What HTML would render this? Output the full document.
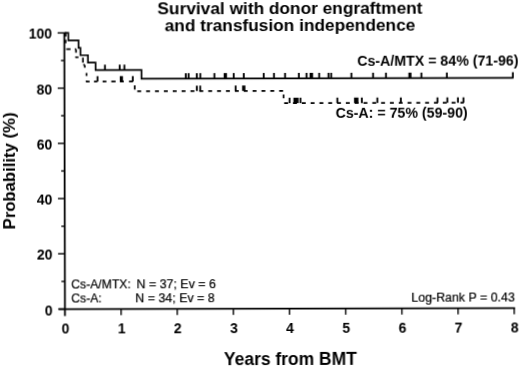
<!DOCTYPE html>
<html><head><meta charset="utf-8"><style>
html,body{margin:0;padding:0;background:#fff;}
body{width:520px;height:367px;overflow:hidden;}
svg{display:block;}
text{font-family:"Liberation Sans",sans-serif;fill:#000;}
.tl{font-size:14px;font-weight:bold;}
.big{font-size:17.3px;font-weight:bold;}
.xl{font-size:17.45px;}
.leg{font-size:14.2px;font-weight:bold;}
.sm{font-size:12.2px;stroke:#000;stroke-width:0.2px;}
.lr{font-size:12.4px;}
.nn{font-size:12.45px;}
</style></head><body>
<svg width="520" height="367" viewBox="0 0 520 367">
<rect width="520" height="367" fill="#fff"/>
<g opacity="0.999" transform="rotate(-0.1318 290.0 170.0)">
<text x="290.36" y="13.60" text-anchor="middle" class="big">Survival with donor engraftment</text>
<text x="290.32" y="31.10" text-anchor="middle" class="big">and transfusion independence</text>
<text transform="translate(14.90,170.27) rotate(-90) scale(0.966,1)" text-anchor="middle" class="big">Probability (%)</text>
<text x="289.95" y="364.70" text-anchor="middle" class="big xl">Years from BMT</text>
<text x="357.44" y="66.15" class="leg">Cs-A/MTX = 84% (71-96)</text>
<text x="335.72" y="118.10" class="leg">Cs-A: = 75% (59-90)</text>
<text x="71.03" y="288.20" class="sm">Cs-A/MTX:</text>
<text x="136.23" y="288.35" class="sm nn">N = 37; Ev = 6</text>
<text x="71.00" y="302.10" class="sm">Cs-A:</text>
<text x="135.00" y="302.24" class="sm nn">N = 34; Ev = 8</text>
<text x="411.10" y="302.18" class="sm lr">Log-Rank P = 0.43</text>
<line x1="64.63" y1="31.90" x2="64.63" y2="315.6" stroke="#000" stroke-width="1.8"/>
<path d="M58.4,308.5 H514.71" stroke="#000" stroke-width="1.75" fill="none"/>
<line x1="57.9" y1="308.50" x2="64.63" y2="308.50" stroke="#000" stroke-width="1.4"/>
<line x1="61.2" y1="280.89" x2="64.63" y2="280.89" stroke="#000" stroke-width="1.4"/>
<line x1="57.9" y1="253.28" x2="64.63" y2="253.28" stroke="#000" stroke-width="1.4"/>
<line x1="61.2" y1="225.67" x2="64.63" y2="225.67" stroke="#000" stroke-width="1.4"/>
<line x1="57.9" y1="198.06" x2="64.63" y2="198.06" stroke="#000" stroke-width="1.4"/>
<line x1="61.2" y1="170.45" x2="64.63" y2="170.45" stroke="#000" stroke-width="1.4"/>
<line x1="57.9" y1="142.84" x2="64.63" y2="142.84" stroke="#000" stroke-width="1.4"/>
<line x1="61.2" y1="115.23" x2="64.63" y2="115.23" stroke="#000" stroke-width="1.4"/>
<line x1="57.9" y1="87.62" x2="64.63" y2="87.62" stroke="#000" stroke-width="1.4"/>
<line x1="61.2" y1="60.01" x2="64.63" y2="60.01" stroke="#000" stroke-width="1.4"/>
<line x1="57.9" y1="32.40" x2="64.63" y2="32.40" stroke="#000" stroke-width="1.4"/>
<line x1="120.79" y1="308.5" x2="120.79" y2="314.8" stroke="#000" stroke-width="1.4"/>
<line x1="176.95" y1="308.5" x2="176.95" y2="314.8" stroke="#000" stroke-width="1.4"/>
<line x1="233.11" y1="308.5" x2="233.11" y2="314.8" stroke="#000" stroke-width="1.4"/>
<line x1="289.27" y1="308.5" x2="289.27" y2="314.8" stroke="#000" stroke-width="1.4"/>
<line x1="345.43" y1="308.5" x2="345.43" y2="314.8" stroke="#000" stroke-width="1.4"/>
<line x1="401.59" y1="308.5" x2="401.59" y2="314.8" stroke="#000" stroke-width="1.4"/>
<line x1="457.75" y1="308.5" x2="457.75" y2="314.8" stroke="#000" stroke-width="1.4"/>
<line x1="513.91" y1="308.5" x2="513.91" y2="314.8" stroke="#000" stroke-width="1.4"/>
<text x="52.3" y="314.50" text-anchor="end" class="tl">0</text>
<text x="52.3" y="259.28" text-anchor="end" class="tl">20</text>
<text x="52.3" y="204.06" text-anchor="end" class="tl">40</text>
<text x="52.3" y="148.84" text-anchor="end" class="tl">60</text>
<text x="52.3" y="93.62" text-anchor="end" class="tl">80</text>
<text x="52.3" y="38.40" text-anchor="end" class="tl">100</text>
<text x="65.13" y="333.2" text-anchor="middle" class="tl">0</text>
<text x="121.29" y="333.2" text-anchor="middle" class="tl">1</text>
<text x="177.45" y="333.2" text-anchor="middle" class="tl">2</text>
<text x="233.61" y="333.2" text-anchor="middle" class="tl">3</text>
<text x="289.77" y="333.2" text-anchor="middle" class="tl">4</text>
<text x="345.93" y="333.2" text-anchor="middle" class="tl">5</text>
<text x="402.09" y="333.2" text-anchor="middle" class="tl">6</text>
<text x="458.25" y="333.2" text-anchor="middle" class="tl">7</text>
<text x="514.41" y="333.2" text-anchor="middle" class="tl">8</text>
<path d="M64.63,32.40 H68.60 V39.85 H78.80 V47.31 H80.70 V54.76 H88.20 V62.22 H95.80 V69.67 H141.70 V78.32 H513.70" fill="none" stroke="#000" stroke-width="1.7" stroke-linejoin="miter" stroke-linecap="butt"/>
<line x1="105.20" y1="64.27" x2="105.20" y2="69.67" stroke="#000" stroke-width="1.85"/>
<line x1="119.90" y1="64.27" x2="119.90" y2="69.67" stroke="#000" stroke-width="1.85"/>
<line x1="124.60" y1="64.27" x2="124.60" y2="69.67" stroke="#000" stroke-width="1.85"/>
<line x1="186.00" y1="72.92" x2="186.00" y2="78.32" stroke="#000" stroke-width="1.85"/>
<line x1="188.80" y1="72.92" x2="188.80" y2="78.32" stroke="#000" stroke-width="1.85"/>
<line x1="197.00" y1="72.92" x2="197.00" y2="78.32" stroke="#000" stroke-width="1.85"/>
<line x1="200.50" y1="72.92" x2="200.50" y2="78.32" stroke="#000" stroke-width="1.85"/>
<line x1="214.60" y1="72.92" x2="214.60" y2="78.32" stroke="#000" stroke-width="1.85"/>
<rect x="223.90" y="72.92" width="3.30" height="5.40" fill="#000"/>
<line x1="233.90" y1="72.92" x2="233.90" y2="78.32" stroke="#000" stroke-width="1.85"/>
<line x1="244.00" y1="72.92" x2="244.00" y2="78.32" stroke="#000" stroke-width="1.85"/>
<line x1="263.90" y1="72.92" x2="263.90" y2="78.32" stroke="#000" stroke-width="1.85"/>
<line x1="274.20" y1="72.92" x2="274.20" y2="78.32" stroke="#000" stroke-width="1.85"/>
<line x1="285.30" y1="72.92" x2="285.30" y2="78.32" stroke="#000" stroke-width="1.85"/>
<line x1="299.10" y1="72.92" x2="299.10" y2="78.32" stroke="#000" stroke-width="1.85"/>
<line x1="306.70" y1="72.92" x2="306.70" y2="78.32" stroke="#000" stroke-width="1.85"/>
<rect x="309.80" y="72.92" width="3.50" height="5.40" fill="#000"/>
<line x1="319.40" y1="72.92" x2="319.40" y2="78.32" stroke="#000" stroke-width="1.85"/>
<line x1="328.70" y1="72.92" x2="328.70" y2="78.32" stroke="#000" stroke-width="1.85"/>
<line x1="331.40" y1="72.92" x2="331.40" y2="78.32" stroke="#000" stroke-width="1.85"/>
<line x1="351.60" y1="72.92" x2="351.60" y2="78.32" stroke="#000" stroke-width="1.85"/>
<line x1="373.30" y1="72.92" x2="373.30" y2="78.32" stroke="#000" stroke-width="1.85"/>
<line x1="386.20" y1="72.92" x2="386.20" y2="78.32" stroke="#000" stroke-width="1.85"/>
<rect x="408.60" y="72.92" width="3.10" height="5.40" fill="#000"/>
<line x1="421.60" y1="72.92" x2="421.60" y2="78.32" stroke="#000" stroke-width="1.85"/>
<line x1="447.10" y1="72.92" x2="447.10" y2="78.32" stroke="#000" stroke-width="1.85"/>
<line x1="513.10" y1="72.72" x2="513.10" y2="78.32" stroke="#000" stroke-width="1.85"/>
<line x1="65.90" y1="31.70" x2="65.90" y2="48.63" stroke="#000" stroke-width="1.7" stroke-dasharray="4.2 3.3 3.6 10" stroke-dashoffset="0"/>
<line x1="65.90" y1="48.63" x2="76.30" y2="48.63" stroke="#000" stroke-width="1.7" stroke-dasharray="0.6 0.6 3.7 4.3 3 10" stroke-dashoffset="0"/>
<line x1="76.30" y1="48.63" x2="76.30" y2="56.75" stroke="#000" stroke-width="1.7" stroke-dasharray="3.6 4 2 10" stroke-dashoffset="0"/>
<line x1="75.60" y1="56.75" x2="83.20" y2="56.75" stroke="#000" stroke-width="1.7" stroke-dasharray="3.1 10" stroke-dashoffset="0"/>
<line x1="83.20" y1="57.15" x2="83.20" y2="64.43" stroke="#000" stroke-width="1.7" stroke-dasharray="5 10" stroke-dashoffset="0"/>
<line x1="83.50" y1="64.43" x2="85.00" y2="64.43" stroke="#000" stroke-width="1.7" stroke-dasharray="2 10" stroke-dashoffset="0"/>
<line x1="85.00" y1="64.43" x2="85.00" y2="73.01" stroke="#000" stroke-width="1.7" stroke-dasharray="2.9 10" stroke-dashoffset="0"/>
<line x1="86.70" y1="72.61" x2="86.70" y2="81.13" stroke="#000" stroke-width="1.7" stroke-dasharray="3 4.6 3 10" stroke-dashoffset="0"/>
<line x1="86.20" y1="81.13" x2="134.90" y2="81.13" stroke="#000" stroke-width="1.7" stroke-dasharray="3.6 4.4 3.3 5.3 3.8 4.9 4.3 4.3 3.9 5.2 3.8 10" stroke-dashoffset="0"/>
<line x1="134.90" y1="81.13" x2="134.90" y2="90.80" stroke="#000" stroke-width="1.7" stroke-dasharray="0 3.8 4.3 10" stroke-dashoffset="0"/>
<line x1="134.90" y1="90.80" x2="283.70" y2="90.80" stroke="#000" stroke-width="1.7" stroke-dasharray="3.9 4.970" stroke-dashoffset="6.320"/>
<line x1="283.70" y1="90.80" x2="283.70" y2="103.14" stroke="#000" stroke-width="1.7" stroke-dasharray="0 3.6 3.9 10" stroke-dashoffset="0"/>
<line x1="283.70" y1="103.14" x2="463.80" y2="103.14" stroke="#000" stroke-width="1.7" stroke-dasharray="3.9 4.910" stroke-dashoffset="8.160"/>
<line x1="97.70" y1="75.73" x2="97.70" y2="81.13" stroke="#000" stroke-width="1.85"/>
<rect x="120.00" y="75.73" width="3.20" height="5.40" fill="#000"/>
<line x1="133.00" y1="75.73" x2="133.00" y2="81.13" stroke="#000" stroke-width="1.85"/>
<line x1="197.00" y1="85.40" x2="197.00" y2="90.80" stroke="#000" stroke-width="1.85"/>
<line x1="200.40" y1="85.40" x2="200.40" y2="90.80" stroke="#000" stroke-width="1.85"/>
<line x1="235.80" y1="85.40" x2="235.80" y2="90.80" stroke="#000" stroke-width="1.85"/>
<rect x="242.30" y="85.40" width="3.30" height="5.40" fill="#000"/>
<line x1="289.70" y1="97.74" x2="289.70" y2="103.14" stroke="#000" stroke-width="1.85"/>
<rect x="293.60" y="97.74" width="5.10" height="5.40" fill="#000"/>
<line x1="300.60" y1="97.74" x2="300.60" y2="103.14" stroke="#000" stroke-width="1.85"/>
<line x1="337.50" y1="97.74" x2="337.50" y2="103.14" stroke="#000" stroke-width="1.85"/>
<rect x="354.20" y="97.74" width="4.40" height="5.40" fill="#000"/>
<line x1="362.00" y1="97.74" x2="362.00" y2="103.14" stroke="#000" stroke-width="1.85"/>
<line x1="377.50" y1="97.74" x2="377.50" y2="103.14" stroke="#000" stroke-width="1.85"/>
<line x1="401.00" y1="97.74" x2="401.00" y2="103.14" stroke="#000" stroke-width="1.85"/>
<line x1="437.60" y1="97.74" x2="437.60" y2="103.14" stroke="#000" stroke-width="1.85"/>
<line x1="447.50" y1="97.74" x2="447.50" y2="103.14" stroke="#000" stroke-width="1.85"/>
<line x1="458.10" y1="97.74" x2="458.10" y2="103.14" stroke="#000" stroke-width="1.85"/>
<line x1="463.60" y1="97.74" x2="463.60" y2="103.14" stroke="#000" stroke-width="1.85"/>
</g>
</svg>
</body></html>
